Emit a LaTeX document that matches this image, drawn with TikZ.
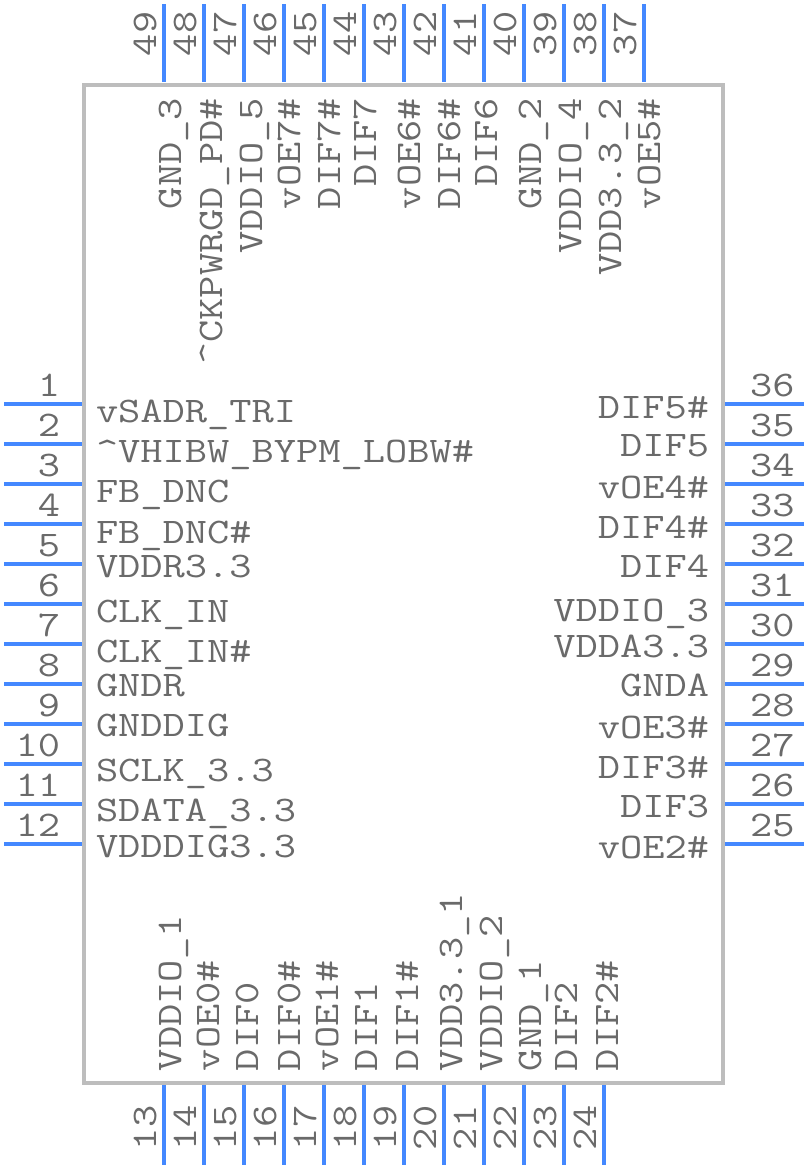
\documentclass[tikz,border=0pt]{standalone}
\usepackage{fontspec}
\usepackage{xcolor}
\usepackage{tikz}
\usetikzlibrary{positioning,calc}
\newfontfamily\pinfont[FakeStretch=1.2]{Latin Modern Mono}
\definecolor{pinblue}{HTML}{4488FF}
\definecolor{bodygray}{HTML}{BDBDBD}
\definecolor{labelgray}{HTML}{6A6A6A}

\begin{document}
\begin{tikzpicture}[
    x=1pt, y=-1pt,
    body/.style={draw=bodygray, line width=4pt},
    pin/.style={draw=pinblue, line width=4pt},
    lbl/.style={text=labelgray, inner sep=0pt, outer sep=0pt, font=\pinfont\fontsize{36}{36}\selectfont},
    lblv/.style={lbl, rotate=90}
]
    \useasboundingbox (0,0) rectangle (808,1168);
    \draw[body] (84,85) rectangle (723,1083);

    % Left
    \foreach \n/\ya/\yb/\name in {1/404/422/vSADR\_TRI, 2/444/462/\textasciicircum VHIBW\_BYPM\_LOBW\#, 3/484/502/FB\_DNC,
        4/524/543/FB\_DNC\#, 5/564/577/VDDR3.3, 6/604/622/CLK\_IN, 7/644/662/CLK\_IN\#, 8/684/696/GNDR,
        9/724/736/GNDDIG, 10/764/781/SCLK\_3.3, 11/804/821/SDATA\_3.3, 12/844/857/VDDDIG3.3} {
        \coordinate (p\n) at (82,\ya);
        \coordinate (q\n) at (4,\ya);
        \draw[pin] (q\n) -- (p\n);
        \node[lbl, anchor=base east] (num\n) at (60,\ya-8) {\n};
        \node[lbl, anchor=base west] (name\n) at (96,\yb) {\name};
    }

    % Right
    \foreach \n/\ya/\yb/\name in {36/404/418/DIF5\#, 35/444/456/DIF5, 34/484/498/vOE4\#, 33/524/538/DIF4\#,
        32/564/577/DIF4, 31/604/621/VDDIO\_3, 30/644/657/VDDA3.3, 29/684/696/GNDA,
        28/724/738/vOE3\#, 27/764/778/DIF3\#, 26/804/817/DIF3, 25/844/858/vOE2\#} {
        \coordinate (p\n) at (725,\ya);
        \coordinate (q\n) at (804,\ya);
        \draw[pin] (p\n) -- (q\n);
        \node[lbl, anchor=base west] (num\n) at (750,\ya-8) {\n};
        \node[lbl, anchor=base east] (name\n) at (709,\yb) {\name};
    }

    % Top
    \foreach \n/\xa/\xb/\name in {49/164/181/GND\_3, 48/204/222/\textasciicircum CKPWRGD\_PD\#, 47/244/262/VDDIO\_5,
        46/284/300/vOE7\#, 45/324/340/DIF7\#, 44/364/376/DIF7, 43/404/420/vOE6\#, 42/444/460/DIF6\#,
        41/484/497/DIF6, 40/524/541/GND\_2, 39/564/581/VDDIO\_4, 38/604/621/VDD3.3\_2, 37/644/660/vOE5\#} {
        \coordinate (p\n) at (\xa,82);
        \coordinate (q\n) at (\xa,4);
        \draw[pin] (q\n) -- (p\n);
        \node[lblv, anchor=base west] (num\n) at (\xa-8,56) {\n};
        \node[lblv, anchor=base east] (name\n) at (\xb,98) {\name};
    }

    % Bottom
    \foreach \n/\xa/\xb/\name in {13/164/181/VDDIO\_1, 14/204/219/vOE0\#, 15/244/258/DIF0, 16/284/300/DIF0\#,
        17/324/338/vOE1\#, 18/364/377/DIF1, 19/404/418/DIF1\#, 20/444/462/VDD3.3\_1, 21/484/502/VDDIO\_2,
        22/524/541/GND\_1, 23/564/577/DIF2, 24/604/618/DIF2\#} {
        \coordinate (p\n) at (\xa,1085);
        \coordinate (q\n) at (\xa,1165);
        \draw[pin] (p\n) -- (q\n);
        \node[lblv, anchor=base west] (num\n) at (\xa-8,1150) {\n};
        \node[lblv, anchor=base west] (name\n) at (\xb,1071) {\name};
    }
\end{tikzpicture}
\end{document}
